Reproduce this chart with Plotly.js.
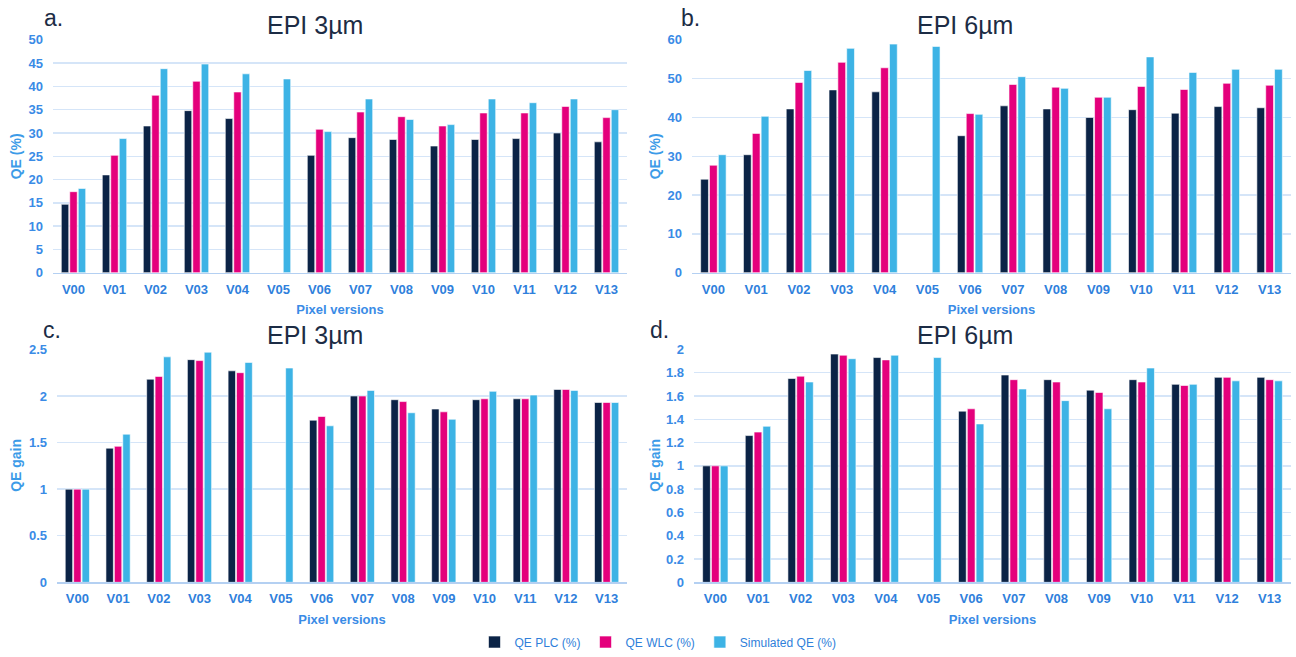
<!DOCTYPE html>
<html>
<head>
<meta charset="utf-8">
<script src="https://cdn.plot.ly/plotly-3.0.1.min.js"></script>
<style>html,body{margin:0;padding:0;background:#fff;}#chart{width:1296px;height:657px;}</style>
</head>
<body>
<div id="chart"></div>
<script>
// Categories
const versions = ["V00","V01","V02","V03","V04","V05","V06","V07","V08","V09","V10","V11","V12","V13"];
const seriesNames = ["QE PLC (%)","QE WLC (%)","Simulated QE (%)"];

// Panel a: EPI 3µm, QE (%)
const qe3_plc = [14.7,21.0,31.5,34.8,33.1,null,25.2,29.0,28.6,27.2,28.6,28.8,30.0,28.1];
const qe3_wlc = [17.4,25.2,38.1,41.1,38.8,null,30.8,34.5,33.5,31.5,34.3,34.3,35.7,33.3];
const qe3_sim = [18.1,28.8,43.8,44.8,42.7,41.6,30.3,37.3,32.9,31.8,37.3,36.5,37.3,35.0];

// Panel b: EPI 6µm, QE (%)
const qe6_plc = [24.1,30.4,42.2,47.1,46.6,null,35.3,43.0,42.2,40.0,42.0,41.1,42.8,42.5];
const qe6_wlc = [27.7,35.9,49.0,54.2,52.8,null,41.0,48.5,47.8,45.2,48.0,47.2,48.8,48.3];
const qe6_sim = [30.4,40.3,52.1,57.8,58.9,58.3,40.8,50.5,47.5,45.2,55.6,51.6,52.4,52.4];

// Panel c: EPI 3µm, QE gain
const gain3_plc = [1.0,1.44,2.18,2.39,2.27,null,1.74,2.0,1.96,1.86,1.96,1.97,2.07,1.93];
const gain3_wlc = [1.0,1.46,2.21,2.38,2.25,null,1.78,2.0,1.94,1.83,1.97,1.97,2.07,1.93];
const gain3_sim = [1.0,1.59,2.42,2.47,2.36,2.30,1.68,2.06,1.82,1.75,2.05,2.01,2.06,1.93];

// Panel d: EPI 6µm, QE gain
const gain6_plc = [1.0,1.26,1.75,1.96,1.93,null,1.47,1.78,1.74,1.65,1.74,1.70,1.76,1.76];
const gain6_wlc = [1.0,1.29,1.77,1.95,1.91,null,1.49,1.74,1.72,1.63,1.72,1.69,1.76,1.74];
const gain6_sim = [1.0,1.34,1.72,1.92,1.95,1.93,1.36,1.66,1.56,1.49,1.84,1.70,1.73,1.73];

const colors = ["#0b2346","#e4007c","#3db3e5"];
const tickBlue = "#2f80dc";
const titleBlue = "#3c9be8";
const darkText = "#1c2c45";
const font = "Liberation Sans, Arial, sans-serif";

const panels = [
  {vals:[qe3_plc,qe3_wlc,qe3_sim], xa:"x", ya:"y"},
  {vals:[qe6_plc,qe6_wlc,qe6_sim], xa:"x2", ya:"y2"},
  {vals:[gain3_plc,gain3_wlc,gain3_sim], xa:"x3", ya:"y3"},
  {vals:[gain6_plc,gain6_wlc,gain6_sim], xa:"x4", ya:"y4"}
];

const data = [];
panels.forEach((p, pi) => {
  p.vals.forEach((v, si) => {
    data.push({
      type:"bar", x:versions, y:v, name:seriesNames[si],
      xaxis:p.xa, yaxis:p.ya,
      marker:{color:colors[si], line:{color:"#ffffff", width:0.6}},
      showlegend: pi===0, legendgroup:seriesNames[si],
      hoverinfo:"x+y"
    });
  });
});

function xax(domain, anchor){
  return {
    domain:domain, anchor:anchor, type:"category",
    showgrid:false, showline:true, linecolor:"#b4d0f2", linewidth:1.5,
    ticks:"", tickfont:{family:font, size:13, color:tickBlue, weight:"bold"},
    ticklabelstandoff:4,
    title:{text:"Pixel versions", font:{family:font, size:13, color:"#3a8be6", weight:"bold"}, standoff:9},
    fixedrange:true
  };
}
function yax(domain, anchor, range, dtick){
  return {
    domain:domain, anchor:anchor, range:range, dtick:dtick,
    showgrid:true, gridcolor:"#d5e5f8", gridwidth:1.5, zeroline:false,
    showline:false, ticks:"", ticklabelstandoff:9,
    tickfont:{family:font, size:13, color:"#3a8be6", weight:"bold"},
    fixedrange:true
  };
}

const W = 1296, H = 657;
const fx = px => px / W;
const fy = py => 1 - py / H;

function ann(text, px, py, size, color, extra){
  return Object.assign({text:text, x:fx(px), y:fy(py), xref:"paper", yref:"paper",
    xanchor:"center", yanchor:"middle", showarrow:false,
    font:{family:font, size:size, color:color}}, extra || {});
}
const yTitleFont = {family:font, size:14, color:titleBlue, weight:"bold"};

const layout = {
  width:W, height:H,
  margin:{l:0, r:0, t:0, b:0},
  paper_bgcolor:"#ffffff", plot_bgcolor:"#ffffff",
  barmode:"group", bargap:0.38, bargroupgap:0.12,
  font:{family:font},
  xaxis: xax([fx(53), fx(627)], "y"),
  yaxis: yax([fy(274), fy(40)], "x", [0,50], 5),
  xaxis2: xax([fx(692), fx(1291)], "y2"),
  yaxis2: yax([fy(274), fy(40)], "x2", [0,60], 10),
  xaxis3: xax([fx(57), fx(627)], "y3"),
  yaxis3: yax([fy(585), fy(351)], "x3", [0,2.5], 0.5),
  xaxis4: xax([fx(694), fx(1291)], "y4"),
  yaxis4: yax([fy(585), fy(351)], "x4", [0,2], 0.2),
  legend:{orientation:"h", x:fx(658), xanchor:"center", y:fy(645), yanchor:"middle",
    font:{family:font, size:12, color:"#2f7fda"}, itemwidth:30, traceorder:"normal"},
  annotations:[
    ann("EPI 3µm", 315, 25, 25, darkText),
    ann("EPI 6µm", 965, 25, 25, darkText),
    ann("EPI 3µm", 315, 337, 25, darkText),
    ann("EPI 6µm", 965, 337, 25, darkText),
    ann("a.", 53, 18, 23, darkText),
    ann("b.", 690, 18, 23, darkText),
    ann("c.", 52, 332, 23, darkText),
    ann("d.", 659, 332, 23, darkText),
    Object.assign(ann("QE (%)", 16, 157, 14, titleBlue, {textangle:-90}), {font:yTitleFont}),
    Object.assign(ann("QE (%)", 655, 157, 14, titleBlue, {textangle:-90}), {font:yTitleFont}),
    Object.assign(ann("QE gain", 16, 468, 14, titleBlue, {textangle:-90}), {font:yTitleFont}),
    Object.assign(ann("QE gain", 655, 468, 14, titleBlue, {textangle:-90}), {font:yTitleFont})
  ]
};

Plotly.newPlot("chart", data, layout, {displayModeBar:false, staticPlot:true});
</script>
</body>
</html>
